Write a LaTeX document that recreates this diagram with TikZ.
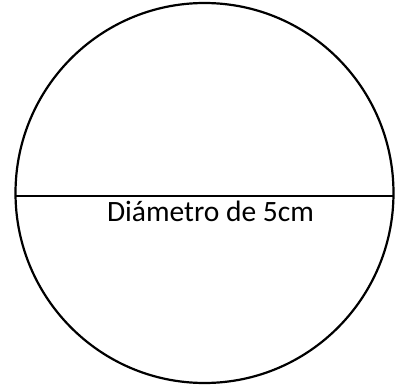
\documentclass[tikz,border=0pt]{standalone}
\usepackage{fontspec}
\setmainfont{Carlito}
\usetikzlibrary{positioning}

\begin{document}
\begin{tikzpicture}[x=1pt,y=1pt,
  rim/.style={line width=2.2pt},
  diam/.style={line width=1.3pt},
  lbl/.style={font=\fontsize{29.5}{34}\selectfont,inner sep=0pt,anchor=base}]
  \useasboundingbox (0,0) rectangle (400,384);
  \coordinate (centre) at (204.5,191);
  \draw[rim] (centre) ellipse [x radius=189, y radius=190];
  % diameter
  \coordinate (left) at (15.5,188);
  \coordinate (right) at (393.5,188);
  \draw[diam] (left) -- (right);
  \node[lbl] (label) at (210.5,163) {Diámetro de 5cm};
\end{tikzpicture}
\end{document}
